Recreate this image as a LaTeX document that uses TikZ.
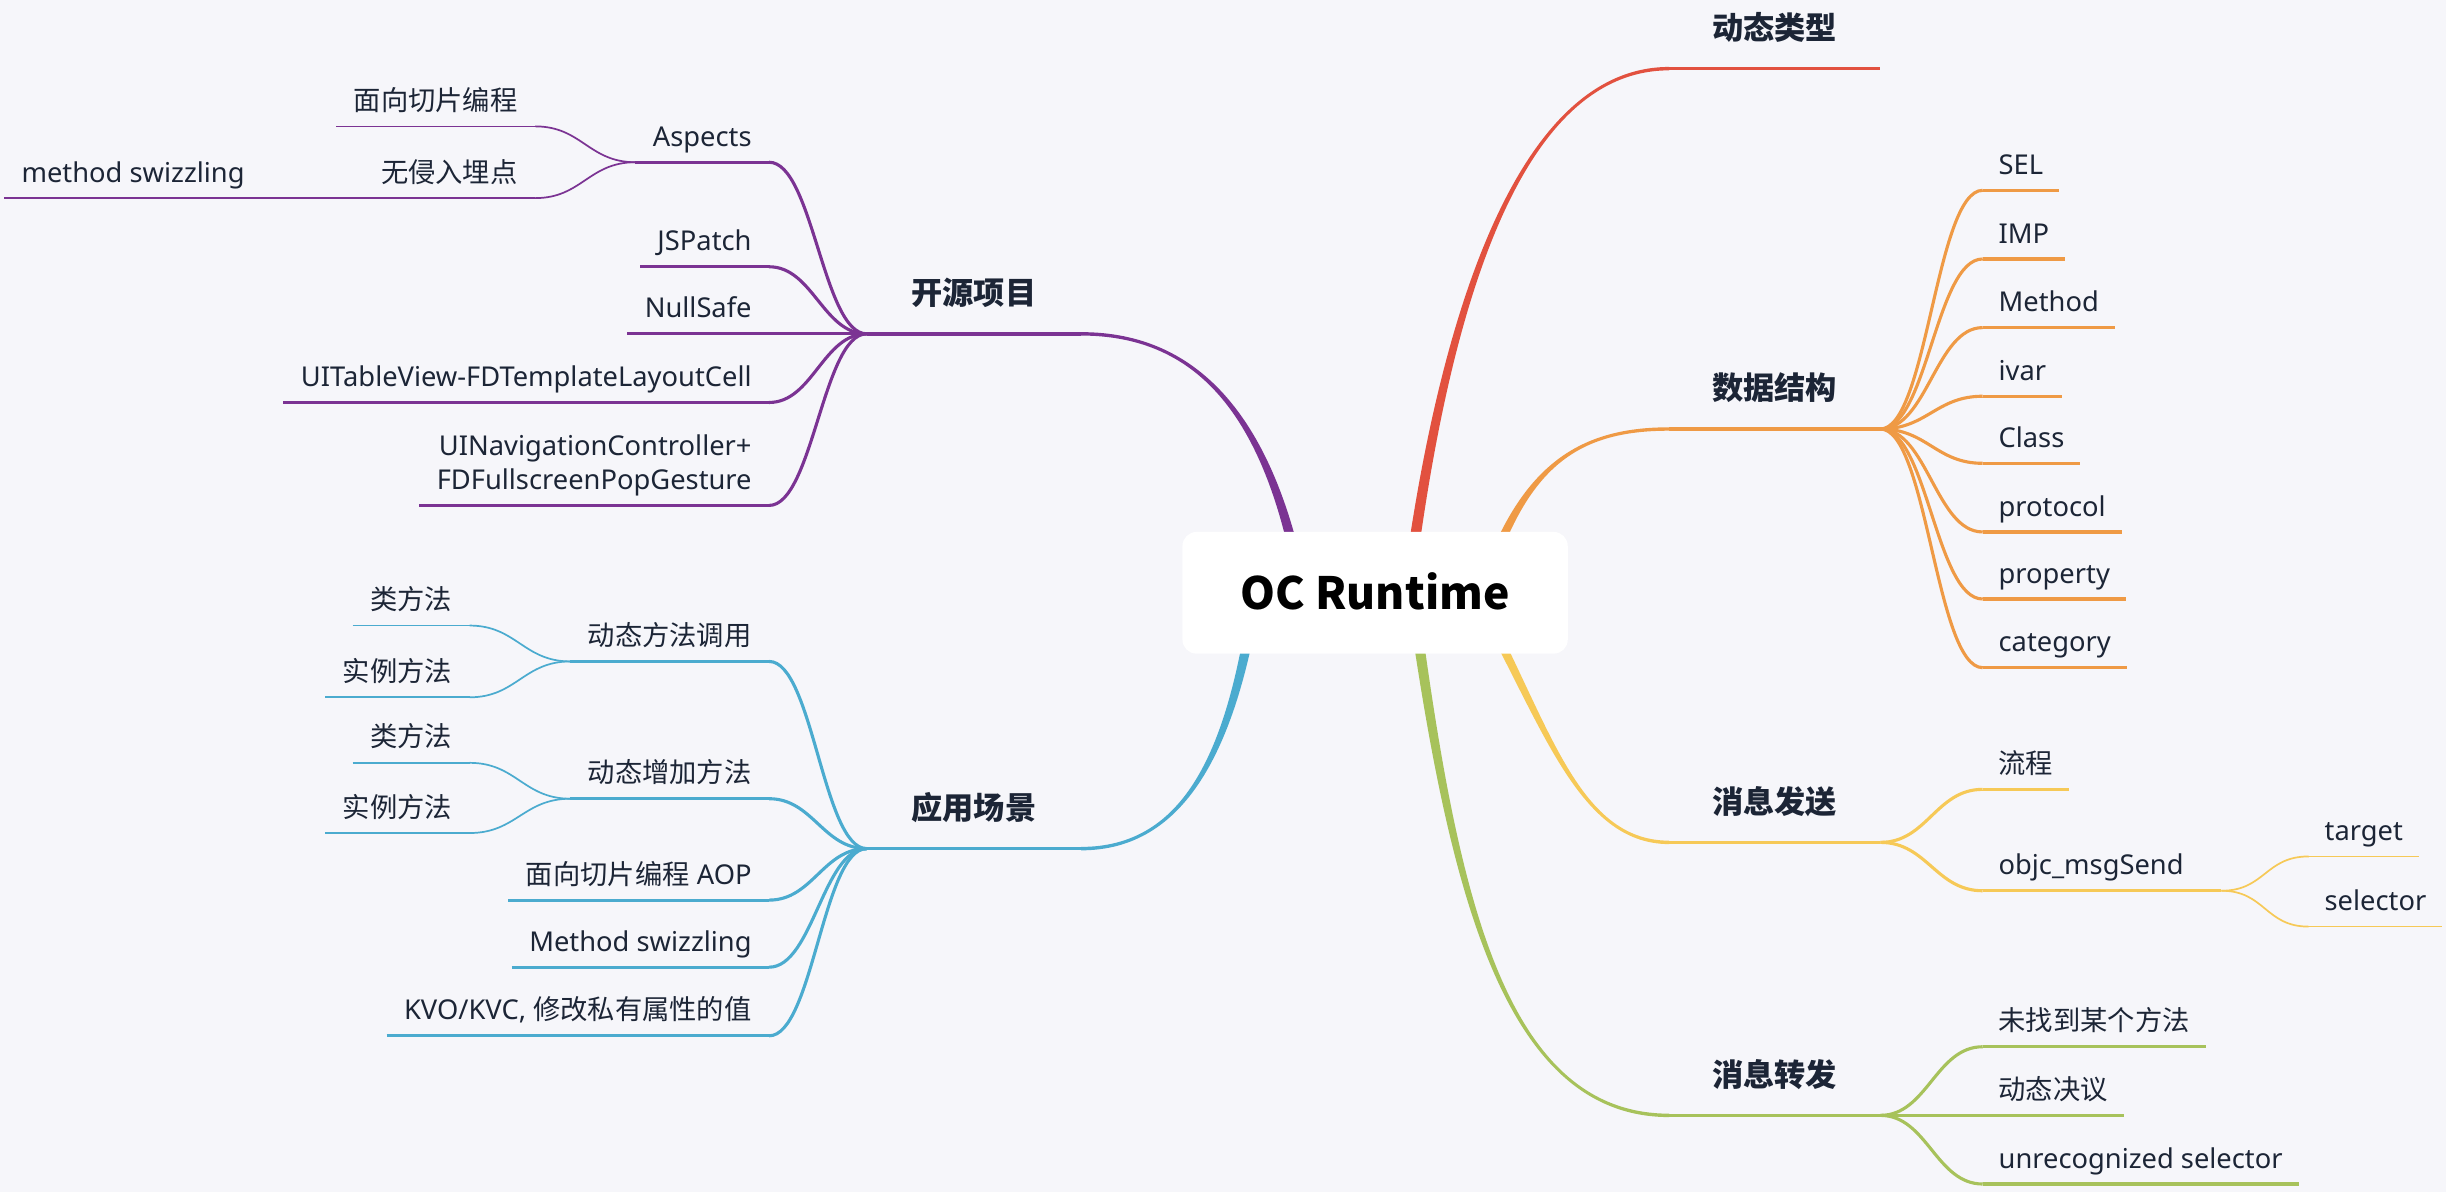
\documentclass[tikz,border=0pt]{standalone}
\usepackage{fontspec}
\setmainfont{Noto Sans}
\newfontfamily\cjk{Noto Sans CJK SC}
\definecolor{bgc}{HTML}{F6F6FA}
\definecolor{txt}{HTML}{1C2536}
\definecolor{cred}{HTML}{E2513F}
\definecolor{corange}{HTML}{EF9A45}
\definecolor{cyellow}{HTML}{F6C957}
\definecolor{cgreen}{HTML}{A7C25B}
\definecolor{cpurple}{HTML}{7B3393}
\definecolor{cblue}{HTML}{4BABCF}
\pgfdeclarelayer{bg}
\pgfsetlayers{bg,main}
\begin{document}
\begin{tikzpicture}[x=1pt,y=-1pt,
  every node/.style={text=txt, inner xsep=10pt, inner ysep=6pt, text height=13pt, text depth=4pt},
  subfont/.style={font=\fontsize{17.5}{22}\selectfont},
  rsub/.style={subfont, anchor=south west},
  lsub/.style={subfont, anchor=south east, inner xsep=11pt},
  mainnode/.style={font={\cjk\bfseries\fontsize{20}{24}\selectfont}, minimum width=135pt, inner ysep=14.5pt, inner xsep=0pt, text height=15pt},
  rootnode/.style={font={\cjk\bfseries\fontsize{28.5}{34}\selectfont}, fill=white, rounded corners=9pt, minimum width=247pt, minimum height=78pt, text height=22pt, text depth=0pt, inner sep=0pt, text=black},
  ul/.style={line width=2.2pt},
  l2/.style={line width=2pt},
  l3/.style={line width=1.1pt},
]
\useasboundingbox (0,0) rectangle (1568,764);
\begin{pgfonlayer}{bg}
\fill[bgc] (0,0) rectangle (1568,764);
% main tapered branches
\fill[cred] (901.5,360) .. controls (927.4,180) and (980,42.9) .. (1070,42.9) -- (1070,45.1) .. controls (980,45.1) and (932.6,180) .. (908.5,360) -- cycle;
\fill[corange] (946.5,380) .. controls (972.4,300) and (1010,273.9) .. (1070,273.9) -- (1070,276.1) .. controls (1010,276.1) and (977.6,300) .. (953.5,380) -- cycle;
\fill[cyellow] (941.5,380) .. controls (987.4,460) and (1010,541.1) .. (1070,541.1) -- (1070,538.9) .. controls (1010,538.9) and (992.6,460) .. (948.5,380) -- cycle;
\fill[cgreen] (901.5,380) .. controls (927.4,560) and (960,716.1) .. (1070,716.1) -- (1070,713.9) .. controls (960,713.9) and (932.6,560) .. (908.5,380) -- cycle;
\fill[cpurple] (838.5,380) .. controls (817.6,270) and (770,212.9) .. (693,212.9) -- (693,215.1) .. controls (770,215.1) and (812.4,270) .. (831.5,380) -- cycle;
\fill[cblue] (808.5,380) .. controls (792.6,480) and (760,545.1) .. (693,545.1) -- (693,542.9) .. controls (760,542.9) and (787.4,480) .. (801.5,380) -- cycle;
\end{pgfonlayer}

\node[rootnode] (root) at (881.5,380) {OC Runtime};

% main nodes
\node[mainnode, anchor=south west] (dt) at (1070,44) {动态类型};
\node[mainnode, anchor=south west] (ds) at (1070,275) {数据结构};
\node[mainnode, anchor=south west] (xs) at (1070,540) {消息发送};
\node[mainnode, anchor=south west] (xz) at (1070,715) {消息转发};
\node[mainnode, anchor=south east, minimum width=137pt] (ky) at (693,214) {开源项目};
\node[mainnode, anchor=south east, minimum width=137pt] (yy) at (693,544) {应用场景};
\draw[ul, cred] (dt.south west) -- (dt.south east);
\draw[ul, corange] (ds.south west) -- (ds.south east);
\draw[ul, cyellow] (xs.south west) -- (xs.south east);
\draw[ul, cgreen] (xz.south west) -- (xz.south east);
\draw[ul, cpurple] (ky.south west) -- (ky.south east);
\draw[ul, cblue] (yy.south west) -- (yy.south east);

% 数据结构
\node[rsub] (sel) at (1271,122) {SEL};
\node[rsub] (imp) at (1271,166) {IMP};
\node[rsub] (meth) at (1271,210) {Method};
\node[rsub] (ivar) at (1271,254) {ivar};
\node[rsub] (cls) at (1271,297) {Class};
\node[rsub] (proto) at (1271,341) {protocol};
\node[rsub] (prop) at (1271,384) {property};
\node[rsub] (cat) at (1271,428) {category};
\foreach \n in {sel,imp,meth,ivar,cls,proto,prop,cat}{
  \draw[l2, corange] (ds.south east) .. controls +(30,0) and +(-30,0) .. (\n.south west);
  \draw[l2, corange] (\n.south west) -- (\n.south east);
}

% 消息发送
\node[rsub] (lc) at (1271,506) {\cjk 流程};
\node[rsub] (objc) at (1271,571) {objc\_msgSend};
\node[rsub] (target) at (1480,549) {target};
\node[rsub] (selector) at (1480,594) {selector};
\foreach \n in {lc,objc}{
  \draw[l2, cyellow] (xs.south east) .. controls +(30,0) and +(-30,0) .. (\n.south west);
  \draw[l2, cyellow] (\n.south west) -- (\n.south east);
}
\coordinate (objcend) at ([xshift=14pt]objc.south east);
\draw[l2, cyellow] (objc.south east) -- (objcend);
\foreach \n in {target,selector}{
  \draw[l3, cyellow] (objcend) .. controls +(28,0) and +(-28,0) .. (\n.south west);
  \draw[l3, cyellow] (\n.south west) -- (\n.south east);
}

% 消息转发
\node[rsub] (wz) at (1271,671) {\cjk 未找到某个方法};
\node[rsub] (dj) at (1271,715) {\cjk 动态决议};
\node[rsub] (unrec) at (1271,759) {unrecognized selector};
\foreach \n in {wz,dj,unrec}{
  \draw[l2, cgreen] (xz.south east) .. controls +(30,0) and +(-30,0) .. (\n.south west);
  \draw[l2, cgreen] (\n.south west) -- (\n.south east);
}

% 开源项目
\node[lsub] (asp) at (493,104) {Aspects};
\node[lsub] (jsp) at (493,171) {JSPatch};
\node[lsub] (nulls) at (493,214) {NullSafe};
\node[lsub] (uitv) at (493,258) {UITableView-FDTemplateLayoutCell};
\node[lsub, align=right] (uinav) at (493,324) {UINavigationController+\\FDFullscreenPopGesture};
\foreach \n in {asp,jsp,nulls,uitv,uinav}{
  \draw[l2, cpurple] (ky.south west) .. controls +(-28,0) and +(28,0) .. (\n.south east);
  \draw[l2, cpurple] (\n.south west) -- (\n.south east);
}
\node[lsub] (mxqp) at (343,81) {\cjk 面向切片编程};
\node[lsub] (wqr) at (343,127) {\cjk 无侵入埋点};
\node[lsub] (msw) at (168,127) {method swizzling};
\foreach \n in {mxqp,wqr}{
  \draw[l3, cpurple] (asp.south west) .. controls +(-30,0) and +(30,0) .. (\n.south east);
  \draw[l3, cpurple] (\n.south west) -- (\n.south east);
}
\draw[l3, cpurple] (wqr.south west) -- (msw.south east);
\draw[l3, cpurple] (msw.south west) -- (msw.south east);

% 应用场景
\node[lsub] (dtff) at (493,424) {\cjk 动态方法调用};
\node[lsub] (dtzj) at (493,512) {\cjk 动态增加方法};
\node[lsub] (aop) at (493,577) {{\cjk 面向切片编程} AOP};
\node[lsub] (mswz) at (493,620) {Method swizzling};
\node[lsub] (kvo) at (493,664) {KVO/KVC, {\cjk 修改私有属性的值}};
\foreach \n in {dtff,dtzj,aop,mswz,kvo}{
  \draw[l2, cblue] (yy.south west) .. controls +(-28,0) and +(28,0) .. (\n.south east);
  \draw[l2, cblue] (\n.south west) -- (\n.south east);
}
\node[lsub] (lff1) at (301,401) {\cjk 类方法};
\node[lsub] (slff1) at (301,447) {\cjk 实例方法};
\node[lsub] (lff2) at (301,489) {\cjk 类方法};
\node[lsub] (slff2) at (301,534) {\cjk 实例方法};
\foreach \n in {lff1,slff1}{
  \draw[l3, cblue] (dtff.south west) .. controls +(-30,0) and +(30,0) .. (\n.south east);
  \draw[l3, cblue] (\n.south west) -- (\n.south east);
}
\foreach \n in {lff2,slff2}{
  \draw[l3, cblue] (dtzj.south west) .. controls +(-30,0) and +(30,0) .. (\n.south east);
  \draw[l3, cblue] (\n.south west) -- (\n.south east);
}
\end{tikzpicture}
\end{document}
